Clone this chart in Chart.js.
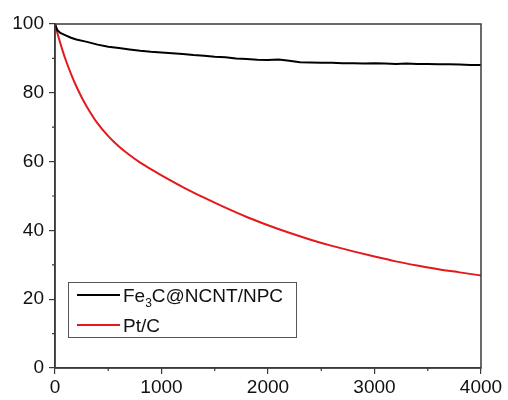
<!DOCTYPE html>
<html>
<head>
<meta charset="utf-8">
<script src="https://cdn.jsdelivr.net/npm/chart.js@4/dist/chart.umd.min.js"></script>
<style>
  html, body { margin: 0; padding: 0; background: #fff; }
  #chart { display: block; }
</style>
</head>
<body>
<canvas id="chart" width="508" height="400"></canvas>
<script>
// time axis (s) and retention (%)
const tBlack = [0, 20, 50, 100, 150, 200, 300, 400, 500, 600, 700, 800, 900, 1000, 1100, 1200, 1300, 1400, 1500, 1600, 1700, 1800, 1900, 2000, 2100, 2200, 2300, 2400, 2500, 2600, 2700, 2800, 2900, 3000, 3100, 3200, 3300, 3400, 3500, 3600, 3700, 3800, 3900, 4000];
const vBlack = [100, 98.3, 97.4, 96.7, 96.0, 95.5, 94.8, 94.0, 93.4, 93.0, 92.6, 92.2, 91.9, 91.7, 91.5, 91.3, 91.0, 90.8, 90.5, 90.3, 90.0, 89.8, 89.6, 89.5, 89.7, 89.3, 88.9, 88.8, 88.7, 88.7, 88.6, 88.6, 88.5, 88.6, 88.5, 88.4, 88.5, 88.4, 88.4, 88.3, 88.3, 88.2, 88.1, 88.1];

const tRed = [0, 25, 50, 75, 100, 150, 200, 250, 300, 400, 500, 600, 700, 800, 900, 1000, 1200, 1400, 1600, 1800, 2000, 2200, 2400, 2600, 2800, 3000, 3200, 3400, 3600, 3800, 4000];
const vRed = [100, 97.1, 94.4, 91.9, 89.6, 85.5, 81.9, 78.7, 75.9, 71.1, 67.4, 64.4, 61.9, 59.7, 57.8, 56.0, 52.6, 49.5, 46.6, 43.9, 41.5, 39.3, 37.3, 35.5, 33.9, 32.4, 31.0, 29.8, 28.7, 27.8, 26.9];

const xTicks = [0, 1000, 2000, 3000, 4000];
const xMinor = [500, 1500, 2500, 3500];
const yTicks = [0, 20, 40, 60, 80, 100];
const yMinor = [10, 30, 50, 70, 90];

const FONT = "'Liberation Sans', Arial, sans-serif";
const AXIS = '#3a3a3a';
const RED = '#e31a1c';

function toPoints(xs, ys) {
    return xs.map((x, i) => ({ x: x, y: ys[i] }));
}

// frame, minor ticks and the boxed legend with subscript
const decorations = {
    id: 'decorations',
    afterDraw(chart) {
        const ctx = chart.ctx;
        const a = chart.chartArea;
        const xs = chart.scales.x;
        const ys = chart.scales.y;
        ctx.save();
        ctx.strokeStyle = AXIS;
        ctx.lineWidth = 1.5;
        ctx.strokeRect(a.left, a.top, a.right - a.left, a.bottom - a.top);

        ctx.lineWidth = 1.2;
        ctx.beginPath();
        yMinor.forEach(v => {
            const y = ys.getPixelForValue(v);
            ctx.moveTo(a.left - 3, y);
            ctx.lineTo(a.left, y);
        });
        xMinor.forEach(v => {
            const x = xs.getPixelForValue(v);
            ctx.moveTo(x, a.bottom);
            ctx.lineTo(x, a.bottom + 3);
        });
        ctx.stroke();

        // legend
        ctx.strokeStyle = '#555';
        ctx.lineWidth = 1;
        ctx.strokeRect(68.5, 282.5, 228, 55);

        ctx.lineWidth = 2;
        ctx.strokeStyle = '#000';
        ctx.beginPath();
        ctx.moveTo(77, 295);
        ctx.lineTo(120, 295);
        ctx.stroke();
        ctx.strokeStyle = RED;
        ctx.beginPath();
        ctx.moveTo(77, 325);
        ctx.lineTo(120, 325);
        ctx.stroke();

        ctx.fillStyle = '#111';
        ctx.textBaseline = 'alphabetic';
        ctx.textAlign = 'left';
        ctx.font = '19px ' + FONT;
        let x = 123;
        ctx.fillText('Fe', x, 302);
        x += ctx.measureText('Fe').width;
        ctx.font = '12px ' + FONT;
        ctx.fillText('3', x, 307);
        x += ctx.measureText('3').width;
        ctx.font = '19px ' + FONT;
        ctx.fillText('C@NCNT/NPC', x, 302);
        ctx.fillText('Pt/C', 123, 332);
        ctx.restore();
    }
};

const ctx = document.getElementById('chart').getContext('2d');
new Chart(ctx, {
    type: 'line',
    data: {
        datasets: [{
            label: 'Fe3C@NCNT/NPC',
            data: toPoints(tBlack, vBlack),
            borderColor: '#000',
            borderWidth: 2,
            pointRadius: 0,
            tension: 0
        }, {
            label: 'Pt/C',
            data: toPoints(tRed, vRed),
            borderColor: RED,
            borderWidth: 2,
            pointRadius: 0,
            cubicInterpolationMode: 'monotone'
        }]
    },
    options: {
        responsive: false,
        animation: false,
        devicePixelRatio: 1,
        layout: {
            padding: { top: 24, right: 27, left: 0, bottom: 0 }
        },
        plugins: {
            legend: { display: false },
            tooltip: { enabled: false }
        },
        scales: {
            x: {
                type: 'linear',
                min: 0,
                max: 4000,
                afterBuildTicks: scale => {
                    scale.ticks = xTicks.map(v => ({ value: v }));
                },
                afterFit: scale => { scale.height = 32; },
                grid: {
                    drawOnChartArea: false,
                    tickLength: 6,
                    color: AXIS,
                    lineWidth: 1.2
                },
                border: { color: AXIS, width: 1.5 },
                ticks: {
                    padding: 2,
                    color: '#111',
                    maxRotation: 0,
                    callback: v => String(v),
                    font: { family: FONT, size: 19 }
                }
            },
            y: {
                min: 0,
                max: 100,
                afterBuildTicks: scale => {
                    scale.ticks = yTicks.map(v => ({ value: v }));
                },
                afterFit: scale => { scale.width = 55; },
                grid: {
                    drawOnChartArea: false,
                    tickLength: 6,
                    color: AXIS,
                    lineWidth: 1.2
                },
                border: { color: AXIS, width: 1.5 },
                ticks: {
                    padding: 5,
                    color: '#111',
                    callback: v => String(v),
                    font: { family: FONT, size: 19 }
                }
            }
        }
    },
    plugins: [decorations]
});
</script>
</body>
</html>
